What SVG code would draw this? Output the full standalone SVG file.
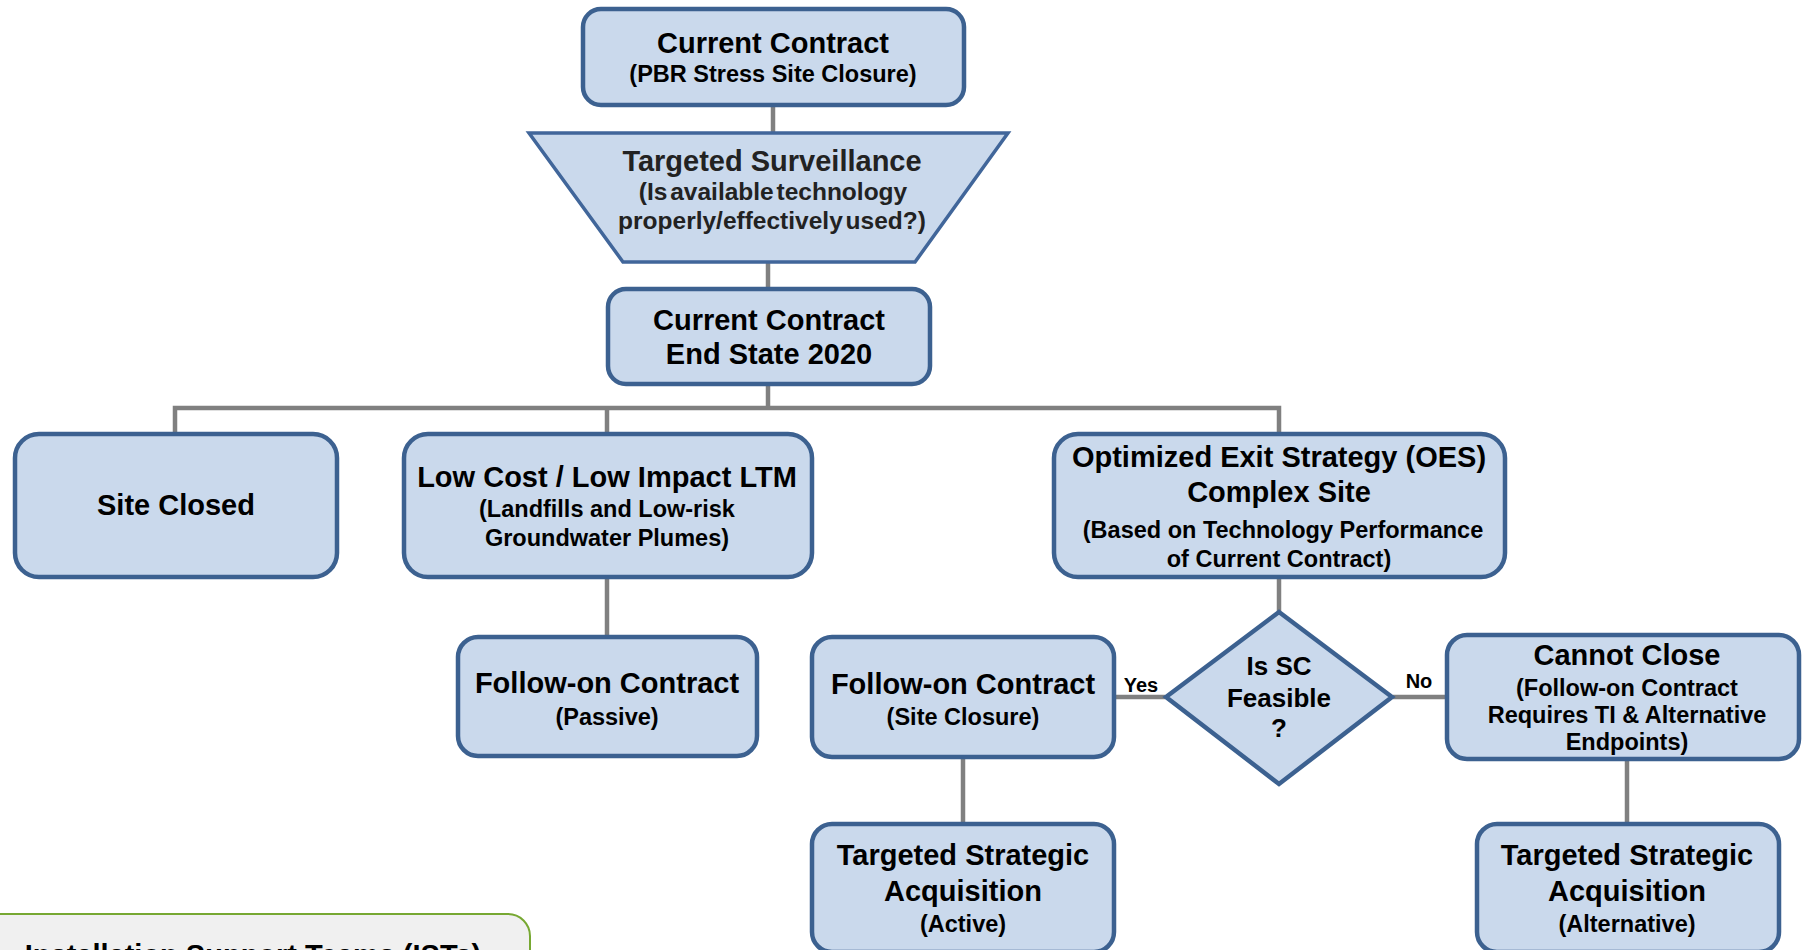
<svg xmlns="http://www.w3.org/2000/svg" width="1802" height="950" viewBox="0 0 1802 950">
<style>
.box{fill:#cad9ec;stroke:#3c6190;stroke-width:4.5}
.trap{fill:#cad9ec;stroke:#41669a;stroke-width:3.5}
.con{fill:none;stroke:#808080;stroke-width:4.5}
.t{font-family:"Liberation Sans",Arial,sans-serif;font-weight:bold;fill:#000;text-anchor:middle}
.h{font-size:29px}
.s{font-size:23.5px}
.lbl{font-size:20px}
.ist{fill:#f0f0f0;stroke:#77a832;stroke-width:2}
.ts{fill:#222}
</style>
<rect width="1802" height="950" fill="#fff"/>
<g id="connectors">
<path class="con" d="M773 106V132"/>
<path class="con" d="M768 263V288"/>
<path class="con" d="M768 385V408"/>
<path class="con" d="M175 433V408H1279V433"/>
<path class="con" d="M607 408V433"/>
<path class="con" d="M607 578V636"/>
<path class="con" d="M1279 578V611"/>
<path class="con" d="M1116 697H1165"/>
<path class="con" d="M1393 697H1445"/>
<path class="con" d="M963 759V822"/>
<path class="con" d="M1627 760V822"/>
</g>
<g id="current-contract">
<rect class="box" x="583" y="9" width="381" height="96" rx="18"/>
<text class="t h" x="773" y="53">Current Contract</text>
<text class="t s" x="773" y="82">(PBR Stress Site Closure)</text>
</g>
<g id="targeted-surveillance">
<polygon class="trap" points="529,133 1008,133 915,262 623,262"/>
<text class="t h ts" x="772" y="171" font-size="29.5">Targeted Surveillance</text>
<text class="t ts" x="773" y="200" font-size="24.5" word-spacing="-4">(Is available technology</text>
<text class="t ts" x="772" y="229" font-size="24.5" word-spacing="-4">properly/effectively used?)</text>
</g>
<g id="end-state">
<rect class="box" x="608" y="289" width="322" height="95" rx="18"/>
<text class="t h" x="769" y="330">Current Contract</text>
<text class="t h" x="769" y="364">End State 2020</text>
</g>
<g id="site-closed">
<rect class="box" x="15" y="434" width="322" height="143" rx="24"/>
<text class="t h" x="176" y="515">Site Closed</text>
</g>
<g id="low-cost">
<rect class="box" x="404" y="434" width="408" height="143" rx="24"/>
<text class="t h" x="607" y="487">Low Cost / Low Impact LTM</text>
<text class="t s" x="607" y="517">(Landfills and Low-risk</text>
<text class="t s" x="607" y="546">Groundwater Plumes)</text>
</g>
<g id="oes">
<rect class="box" x="1054" y="434" width="451" height="143" rx="24"/>
<text class="t h" x="1279" y="467">Optimized Exit Strategy (OES)</text>
<text class="t h" x="1279" y="502">Complex Site</text>
<text class="t s" x="1283" y="538">(Based on Technology Performance</text>
<text class="t s" x="1279" y="567">of Current Contract)</text>
</g>
<g id="follow-on-passive">
<rect class="box" x="458" y="637" width="299" height="119" rx="20"/>
<text class="t h" x="607" y="693">Follow-on Contract</text>
<text class="t s" x="607" y="725">(Passive)</text>
</g>
<g id="follow-on-site-closure">
<rect class="box" x="812" y="637" width="302" height="120" rx="20"/>
<text class="t h" x="963" y="694">Follow-on Contract</text>
<text class="t s" x="963" y="725">(Site Closure)</text>
</g>
<g id="is-sc-feasible">
<polygon class="box" points="1279,612 1392,697 1279,784 1166,697" stroke-width="3.5"/>
<text class="t" x="1279" y="675" font-size="26">Is SC</text>
<text class="t" x="1279" y="707" font-size="26">Feasible</text>
<text class="t" x="1279" y="737" font-size="26">?</text>
</g>
<g id="cannot-close">
<rect class="box" x="1447" y="635" width="352" height="124" rx="20"/>
<text class="t h" x="1627" y="665">Cannot Close</text>
<text class="t s" x="1627" y="696">(Follow-on Contract</text>
<text class="t s" x="1627" y="723">Requires TI &amp; Alternative</text>
<text class="t s" x="1627" y="750">Endpoints)</text>
</g>
<g id="tsa-active">
<rect class="box" x="812" y="824" width="302" height="128" rx="20"/>
<text class="t h" x="963" y="865">Targeted Strategic</text>
<text class="t h" x="963" y="901">Acquisition</text>
<text class="t s" x="963" y="932">(Active)</text>
</g>
<g id="tsa-alternative">
<rect class="box" x="1477" y="824" width="302" height="128" rx="20"/>
<text class="t h" x="1627" y="865">Targeted Strategic</text>
<text class="t h" x="1627" y="901">Acquisition</text>
<text class="t s" x="1627" y="932">(Alternative)</text>
</g>
<g id="edge-labels">
<text class="t lbl" x="1141" y="692">Yes</text>
<text class="t lbl" x="1419" y="688">No</text>
</g>
<g id="ists">
<path class="ist" d="M-5 914H508A22 22 0 0 1 530 936V960H-5Z"/>
<text class="t h" x="253" y="965">Installation Support Teams (ISTs)</text>
</g>
</svg>
